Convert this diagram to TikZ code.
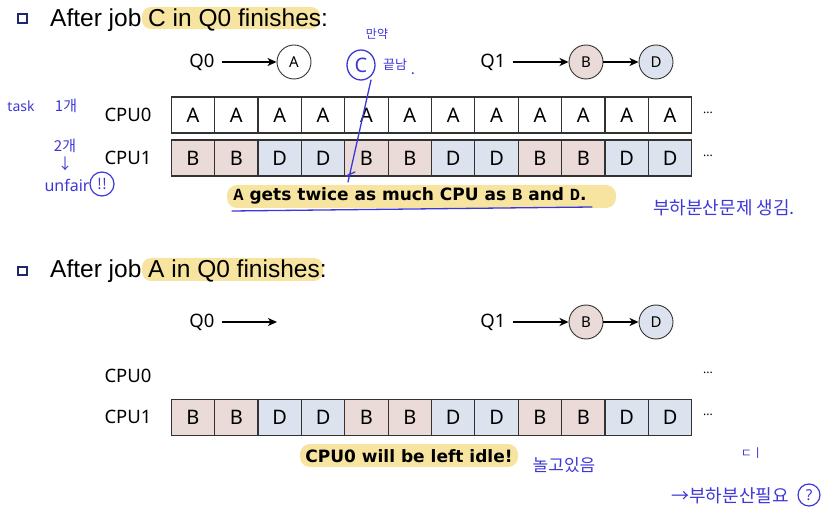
\documentclass[tikz,border=0pt]{standalone}
\usepackage{fontspec}
\setmainfont{Liberation Sans}
\newfontfamily\labf{Noto Sans}
\newfontfamily\boldf{DejaVu Sans}
\newfontfamily\krf{Noto Sans CJK KR}
\newfontfamily\monof{Liberation Mono}
\usetikzlibrary{arrows.meta,shapes.geometric}
\definecolor{navy}{RGB}{30,40,110}
\definecolor{pinkc}{RGB}{234,219,216}
\definecolor{bluec}{RGB}{221,227,238}
\definecolor{hlc}{RGB}{246,228,160}
\definecolor{pen}{RGB}{62,55,215}
\definecolor{cellline}{RGB}{50,50,50}
\tikzset{
  bullet/.style={draw=navy, line width=2.2pt, minimum size=8.5pt, inner sep=0pt},
  heading/.style={font=\fontsize{24.5}{28}\selectfont, inner sep=0pt, anchor=base west},
  qlab/.style={font=\labf\fontsize{18.5}{20}\selectfont, inner sep=0pt},
  cpulab/.style={font=\labf\fontsize{18.5}{20}\selectfont, inner sep=0pt},
  job/.style={circle, draw=cellline, line width=0.9pt, minimum size=34pt, inner sep=0pt, font=\labf\fontsize{15}{16}\selectfont},
  cell/.style={draw=cellline, line width=1.1pt, minimum width=43.37pt, minimum height=36pt, inner sep=0pt, font=\labf\fontsize{20}{22}\selectfont},
  qarrow/.style={line width=1.5pt, -{Stealth[length=9pt,width=8pt,inset=2.5pt]}},
  dots/.style={font=\labf\fontsize{12}{14}\selectfont, inner sep=0pt},
  note/.style={font=\boldf\bfseries\fontsize{17}{19}\selectfont, inner sep=0pt},
  hand/.style={text=pen, font=\krf\fontsize{15}{16}\selectfont, inner sep=0pt},
  handline/.style={draw=pen, line width=1.3pt, line cap=round}
}
\begin{document}
\begin{tikzpicture}[x=1pt,y=-1pt]
\useasboundingbox (0,0) rectangle (840,518);
% ---------- Section 1 ----------
\node[bullet] (b1) at (22.5,18.5) {};
\fill[hlc, rounded corners=9pt] (142,7) rectangle (320,29);
\node[heading] (h1) at (50,27) {After job C in Q0 finishes:};
\node[qlab] (q0a) at (202,62) {Q0};
\node[job] (ja) at (294,62) {A};
\draw[qarrow] (q0a.east) ++(7,0) coordinate (q0as) -- (ja.west);
\node[qlab] (q1a) at (493,62) {Q1};
\node[job, fill=pinkc] (jb1) at (586,62) {B};
\node[job, fill=bluec] (jd1) at (656,62) {D};
\draw[qarrow] (q1a.east) ++(7,0) coordinate (q1as) -- (jb1.west);
\draw[qarrow] (jb1.east) -- (jd1.west);
\node[cpulab] (cpu0a) at (128,115) {CPU0};
\node[cpulab] (cpu1a) at (128,158) {CPU1};
\foreach \i in {1,...,12} {
  \node[cell] (r0-\i) at ({171.3+43.37*(\i-0.5)},115) {A};
}
\foreach \i/\l/\c in {1/B/pinkc,2/B/pinkc,3/D/bluec,4/D/bluec,5/B/pinkc,6/B/pinkc,7/D/bluec,8/D/bluec,9/B/pinkc,10/B/pinkc,11/D/bluec,12/D/bluec} {
  \node[cell, fill=\c] (r1-\i) at ({171.3+43.37*(\i-0.5)},158) {\l};
}
\node[dots] (d0a) at (708,113) {...};
\node[dots] (d1a) at (708,156) {...};
\fill[hlc, rounded corners=10pt] (227,185) rectangle (616,208);
\node[note] (n1) at (410,196) {{\monof\bfseries A} gets twice as much CPU as {\monof\bfseries B} and {\monof\bfseries D}.};
% ---------- Section 2 ----------
\node[bullet] (b2) at (22.5,271) {};
\fill[hlc, rounded corners=9pt] (142,258) rectangle (323,281);
\node[heading] (h2) at (50,278) {After job A in Q0 finishes:};
\node[qlab] (q0b) at (202,322) {Q0};
\coordinate (q0end) at (277,322);
\draw[qarrow] (q0b.east) ++(7,0) coordinate (q0bs) -- (q0end);
\node[qlab] (q1b) at (493,322) {Q1};
\node[job, fill=pinkc] (jb2) at (586,322) {B};
\node[job, fill=bluec] (jd2) at (656,322) {D};
\draw[qarrow] (q1b.east) ++(7,0) coordinate (q1bs) -- (jb2.west);
\draw[qarrow] (jb2.east) -- (jd2.west);
\node[cpulab] (cpu0b) at (128,376) {CPU0};
\node[cpulab] (cpu1b) at (128,417) {CPU1};
\foreach \i/\l/\c in {1/B/pinkc,2/B/pinkc,3/D/bluec,4/D/bluec,5/B/pinkc,6/B/pinkc,7/D/bluec,8/D/bluec,9/B/pinkc,10/B/pinkc,11/D/bluec,12/D/bluec} {
  \node[cell, fill=\c] (s1-\i) at ({171.3+43.37*(\i-0.5)},417.5) {\l};
}
\node[dots] (d0b) at (708,373) {...};
\node[dots] (d1b) at (708,415) {...};
\fill[hlc, rounded corners=10pt] (300,444) rectangle (518,467);
\node[note] (n2) at (409,456) {CPU0 will be left idle!};
% ---------- handwritten annotations ----------
\node[hand, font=\labf\fontsize{14}{15}\selectfont] (tk) at (21,106) {task};
\node[hand] (t1) at (66,106) {1개};
\node[hand] (t2) at (65,146) {2개};
\node[hand] (t3) at (65,164) {↓};
\node[hand, font=\labf\fontsize{16}{18}\selectfont] (uf) at (67,185) {unfair};
\node[hand, draw=pen, line width=1.2pt, circle, minimum size=24pt] (ex) at (102,184) {!!};
\node[hand, font=\krf\fontsize{12}{13}\selectfont] (ma) at (377,34) {만약};
\node[hand, draw=pen, line width=1.3pt, ellipse, minimum width=28pt, minimum height=30pt, font=\labf\fontsize{20}{22}\selectfont] (cc) at (361,65) {C};
\node[hand, font=\krf\fontsize{13}{14}\selectfont] (kn) at (395,65) {끝남};
\node[hand] (kd) at (413,74) {.};
\coordinate (lnend) at (348,182);
\draw[handline] (371,80) -- (lnend);
\draw[handline] (346,176) -- (355,172);
\draw[handline] (232,211) -- (592,207);
\node[hand, font=\krf\fontsize{18}{20}\selectfont] (lb1) at (724,208) {부하분산문제 생김.};
\node[hand, font=\krf\fontsize{17}{18}\selectfont] (idle) at (564,465) {놀고있음};
\node[hand, font=\krf\fontsize{12}{14}\selectfont] (dl) at (752,453) {ㄷㅣ};
\node[hand, font=\krf\fontsize{18}{20}\selectfont] (lb2) at (730,496) {→부하분산필요};
\node[hand, draw=pen, line width=1.2pt, circle, minimum size=22pt, font=\labf\fontsize{15}{16}\selectfont] (qm) at (809,495) {?};
\end{tikzpicture}
\end{document}
